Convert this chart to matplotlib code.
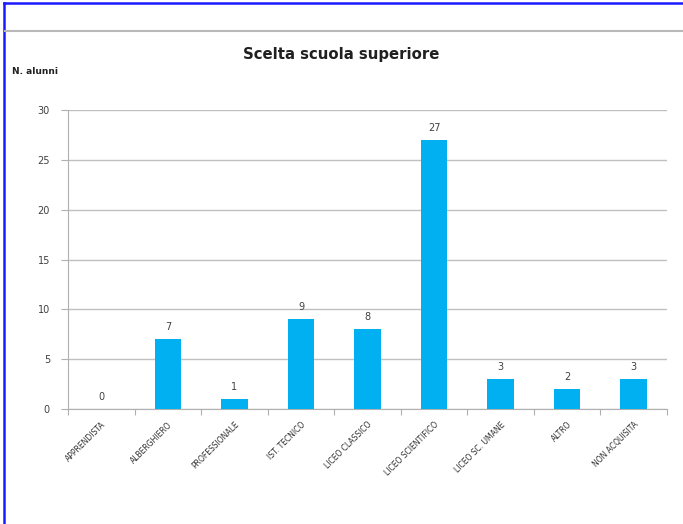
import matplotlib
matplotlib.use("Agg")
import matplotlib.pyplot as plt
from matplotlib.lines import Line2D
import numpy as np

categories = ["APPRENDISTA", "ALBERGHIERO", "PROFESSIONALE", "IST. TECNICO",
              "LICEO CLASSICO", "LICEO SCIENTIFICO", "LICEO SC. UMANE",
              "ALTRO", "NON ACQUISITA"]
values = [0, 7, 1, 9, 8, 27, 3, 2, 3]
y_ticks = [0, 5, 10, 15, 20, 25, 30]

W, H = 683, 524
fig = plt.figure(figsize=(W / 100, H / 100), dpi=100)
fig.patch.set_facecolor("white")

ax = fig.add_axes([68 / W, 1 - 409 / H, (667 - 68) / W, (409 - 110) / H])
x = np.arange(len(categories))
ax.bar(x, values, width=0.4, color="#00B0F0", zorder=3)
ax.set_xlim(-0.5, len(categories) - 0.5)
ax.set_ylim(0, 30)
ax.set_yticks(y_ticks)
ax.set_yticklabels([str(t) for t in y_ticks], fontsize=7, color="#404040")
ax.yaxis.grid(True, color="#c0c0c0", linewidth=1, zorder=0)
ax.set_axisbelow(True)
for s in ["top", "right"]:
    ax.spines[s].set_visible(False)
for s in ["left", "bottom"]:
    ax.spines[s].set_color("#b0b0b0")
ax.tick_params(axis="y", length=5, color="#b0b0b0", pad=8)
ax.set_xticks(np.arange(len(categories) + 1) - 0.5, minor=False)
ax.set_xticklabels([])
ax.tick_params(axis="x", length=4, color="#b0b0b0")
ax.set_xticks(x, minor=True)
ax.set_xticklabels(categories, minor=True, rotation=45, ha="right",
                   rotation_mode="anchor", fontsize=5.5, color="#303030")
ax.tick_params(axis="x", which="minor", length=0, pad=8)

for xi, v in zip(x, values):
    ax.text(xi, v + 0.7, str(v), ha="center", va="bottom", fontsize=7, color="#404040")

fig.text(341 / W, 1 - 55 / H, "Scelta scuola superiore", ha="center", va="center",
         fontsize=10.7, fontweight="bold", color="#202020")
fig.text(12 / W, 1 - 72 / H, "N. alunni", ha="left", va="center",
         fontsize=6.5, fontweight="bold", color="#202020")

fig.add_artist(Line2D([4 / W, 4 / W], [0, 1 - 3 / H], color="#1a1aff", linewidth=1.8))
fig.add_artist(Line2D([4 / W, 1], [1 - 3 / H, 1 - 3 / H], color="#1a1aff", linewidth=1.8))
fig.add_artist(Line2D([5 / W, 1], [1 - 31 / H, 1 - 31 / H], color="#b8b8b8", linewidth=1.5))

fig.savefig("out.png", dpi=100)
